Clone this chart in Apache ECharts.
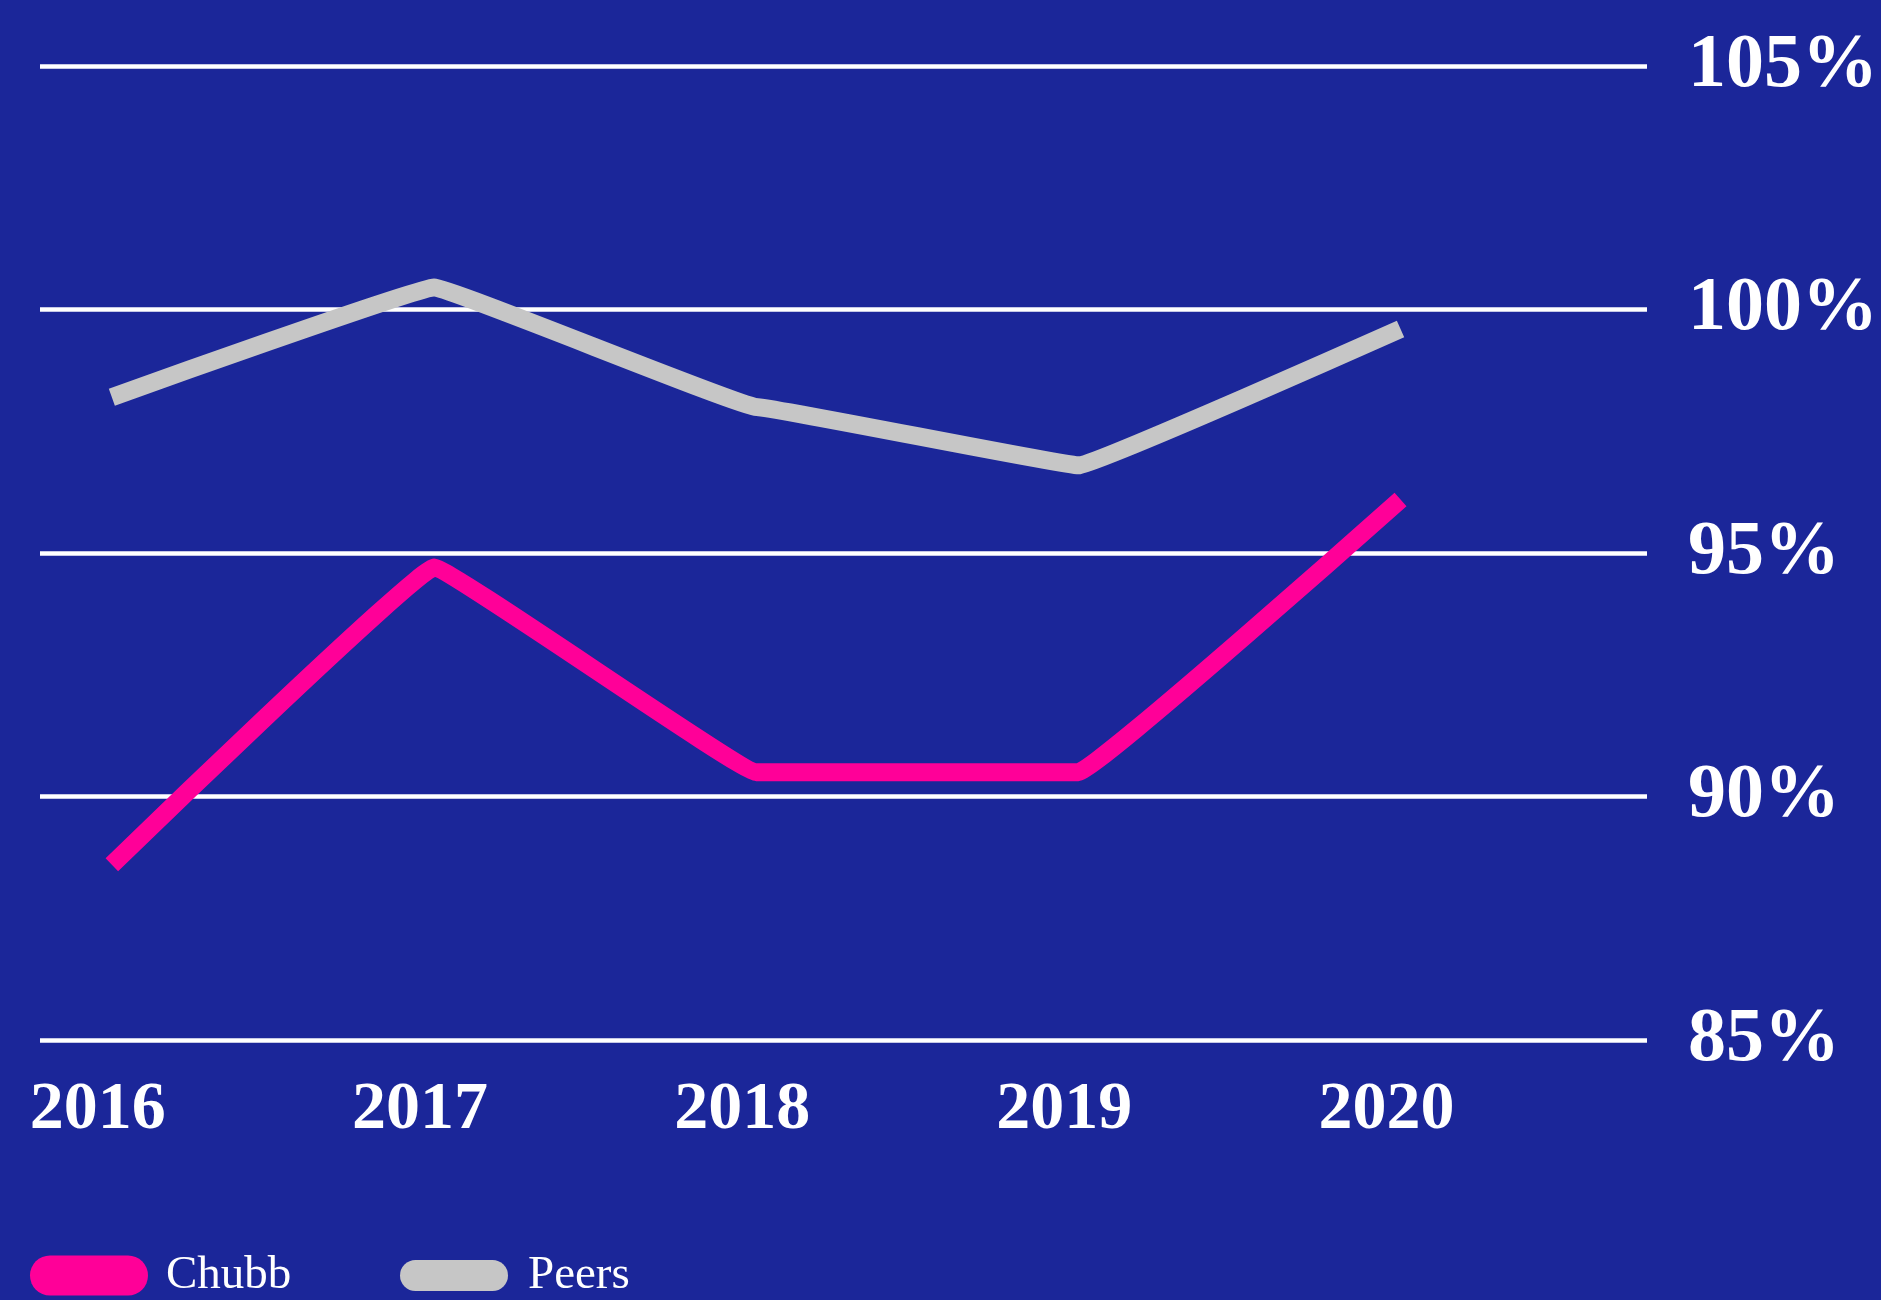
<!DOCTYPE html>
<html>
<head>
<meta charset="utf-8">
<title>Chubb vs Peers</title>
<script src="https://cdn.jsdelivr.net/npm/echarts@6/dist/echarts.min.js"></script>
<style>
  html, body { margin: 0; padding: 0; background: #1b2699; }
  #main { width: 1881px; height: 1300px; }
</style>
</head>
<body>
<div id="main"></div>
<script>
// values (combined ratio, %)
const years = ['2016', '2017', '2018', '2019', '2020']
const chubb = [88.6, 94.7, 90.5, 90.5, 96.1]
const peers = [98.2, 100.45, 98.0, 96.8, 99.6]
const yTicks = [85, 90, 95, 100, 105]

const font = '"Liberation Serif", "DejaVu Serif", serif'
const pink = '#ff0098'
const grey = '#c6c6c6'

const chartDom = document.getElementById('main')
const myChart = echarts.init(chartDom)

const toPoints = (vals) => vals.map((v, i) => [Number(years[i]), v])

const option = {
  animation: false,
  backgroundColor: '#1b2699',
  grid: {
    left: 40,
    right: 230,
    top: 66,
    bottom: 260,
  },
  xAxis: {
    type: 'value',
    min: 2015.777,
    max: 2020.765,
    axisLine: { show: false },
    axisTick: { show: false },
    splitLine: { show: false },
    axisLabel: {
      customValues: years.map(Number),
      formatter: (v) => String(v),
      color: '#fff',
      fontFamily: font,
      fontWeight: 'bold',
      fontSize: 68,
      margin: 36,
      padding: [0, 28, 0, 0],
    },
  },
  yAxis: {
    type: 'value',
    position: 'right',
    min: yTicks[0],
    max: yTicks[yTicks.length - 1],
    interval: 5,
    axisLine: { show: false },
    axisTick: { show: false },
    splitLine: {
      lineStyle: { color: '#ffffff', width: 4.5 },
    },
    axisLabel: {
      formatter: '{value}%',
      color: '#fff',
      fontFamily: font,
      fontWeight: 'bold',
      fontSize: 76,
      margin: 41,
      align: 'left',
      padding: [4, 0, 0, 0],
    },
  },
  legend: [
    {
      left: 30,
      top: 1252,
      padding: 0,
      itemWidth: 118,
      itemHeight: 40,
      data: [
        {
          name: 'Chubb',
          icon: 'path://M20,0H98A20,20 0 0 1 98,40H20A20,20 0 0 1 20,0Z',
          itemStyle: { color: pink },
        },
      ],
      textStyle: { color: '#fff', fontFamily: font, fontSize: 47, padding: [0, 0, 0, 13] },
    },
    {
      left: 400,
      top: 1252,
      padding: 0,
      itemWidth: 108,
      itemHeight: 31,
      data: [
        {
          name: 'Peers',
          icon: 'path://M15.5,0H92.5A15.5,15.5 0 0 1 92.5,31H15.5A15.5,15.5 0 0 1 15.5,0Z',
          itemStyle: { color: grey },
        },
      ],
      textStyle: { color: '#fff', fontFamily: font, fontSize: 47, padding: [0, 0, 0, 15] },
    },
  ],
  series: [
    {
      name: 'Peers',
      type: 'line',
      data: toPoints(peers),
      symbol: 'none',
      smooth: 0.05,
      smoothMonotone: 'x',
      color: grey,
      lineStyle: { color: grey, width: 18, cap: 'butt', join: 'round' },
    },
    {
      name: 'Chubb',
      type: 'line',
      data: toPoints(chubb),
      symbol: 'none',
      smooth: 0.05,
      smoothMonotone: 'x',
      color: pink,
      lineStyle: { color: pink, width: 18, cap: 'butt', join: 'round' },
    },
  ],
}

option && myChart.setOption(option)
</script>
</body>
</html>
